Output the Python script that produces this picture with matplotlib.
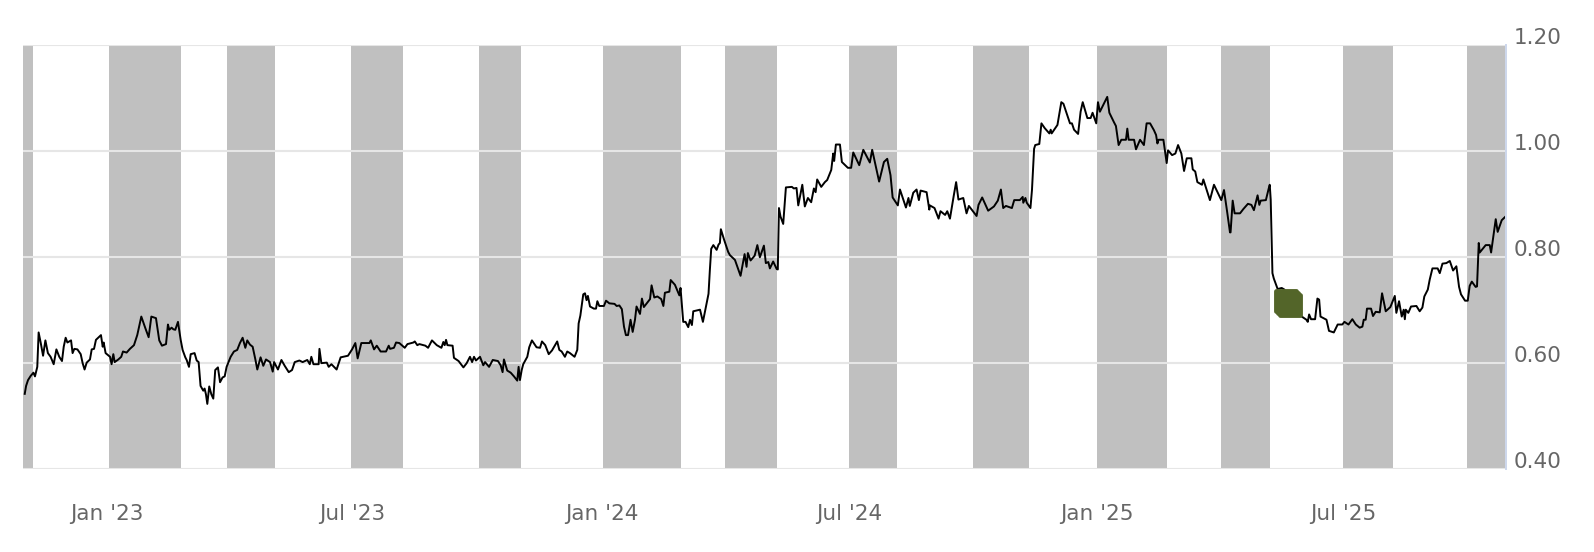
from matplotlib.markers import MarkerStyle
import matplotlib.pyplot as plt

# x axis is ordinal: one unit per trading session, not calendar days
sessions_a = [
    0.9, 1.6, 2.6, 4.0, 5.4, 6.2, 7.4, 8.1, 9.2, 10.4,
    11.6, 12.9, 14.3, 15.9, 17.3, 18.8, 20.2, 21.1, 22.1, 23.0,
    24.9, 25.7, 26.6, 28.2, 29.9, 30.9, 31.9, 33.0, 34.7, 35.6,
    36.8, 37.8, 39.2, 40.4, 41.3, 41.8, 42.8, 45.1, 45.9, 46.8,
    47.5, 49.4, 50.9, 51.8, 53.7, 55.4, 57.5, 59.2, 61.3, 63.4,
    65.1, 66.5, 68.9, 70.6, 72.0, 74.1, 75.1, 75.8, 77.0, 77.9,
    78.9, 80.3, 81.7, 82.7, 84.1, 84.8, 86.0, 86.9, 88.9, 90.0,
    91.0, 92.0, 93.4, 94.1, 94.8, 95.5, 96.5, 97.6, 98.6, 99.6,
    101.0, 102.1, 103.4, 104.5, 105.5, 107.6, 109.3, 111.0, 112.4, 113.8,
    115.2, 116.2, 117.6, 119.0, 120.4, 121.4, 123.1, 124.5, 125.9, 128.0,
]
prices_a = [
    .541, .556, .567, .575, .581, .574, .592, .657, .637, .613,
    .642, .618, .611, .597, .625, .611, .603, .630, .647, .638,
    .642, .618, .626, .625, .616, .599, .587, .600, .606, .625,
    .626, .643, .648, .652, .630, .638, .618, .611, .597, .616,
    .601, .606, .611, .621, .619, .626, .633, .652, .687, .665,
    .648, .687, .684, .642, .632, .635, .672, .662, .666, .663,
    .662, .677, .643, .624, .610, .605, .592, .616, .618, .604,
    .601, .556, .547, .551, .540, .522, .555, .540, .532, .586,
    .591, .563, .572, .574, .592, .611, .621, .624, .637, .647,
    .628, .642, .634, .630, .606, .587, .610, .594, .606, .601,
]

sessions_b = [
    129.4, 130.1, 132.1, 133.9, 135.6, 137.7, 139.4, 140.8, 143.2, 144.9,
    147.3, 148.6, 149.4, 150.5, 153.2, 153.6, 154.6, 157.4, 158.4, 159.8,
    162.5, 164.6, 168.4, 170.5, 172.2, 173.4, 175.3, 179.5, 180.2, 181.9,
    183.3, 185.3, 188.1, 189.5, 190.2, 192.2, 193.3, 195.0, 197.8, 199.2,
    202.3, 203.0, 204.3, 205.4, 208.5, 209.9, 211.9, 214.4, 216.8, 217.8,
    218.5, 219.2, 219.9, 222.6, 223.3, 225.7, 228.2, 229.9, 231.6, 232.7,
    233.7, 234.7, 236.8, 238.5, 239.4, 241.5, 243.4, 246.1, 247.5, 248.5,
    249.2, 250.9, 252.7, 254.4, 256.1, 256.8, 257.5,
]
prices_b = [
    .583, .601, .587, .605, .594, .582, .586, .601, .604, .601,
    .605, .597, .611, .597, .597, .626, .599, .600, .592, .597,
    .587, .610, .613, .625, .637, .608, .637, .637, .642, .625,
    .632, .621, .621, .632, .626, .628, .638, .637, .628, .635,
    .638, .640, .633, .635, .632, .628, .642, .633, .628, .639,
    .633, .643, .633, .632, .609, .603, .591, .599, .611, .601,
    .611, .604, .611, .595, .601, .592, .605, .603, .595, .582,
    .606, .585, .581, .574, .566, .592, .567,
]

sessions_c = [
    258.4, 259.2, 261.3, 262.3, 263.7, 266.1, 267.9, 268.9, 270.6, 272.4,
    274.1, 276.8, 277.9, 279.1, 280.8, 282.0, 283.4, 284.4, 285.8, 287.2,
    287.9, 288.8, 290.3, 291.2, 292.0, 292.7, 293.8, 295.8, 296.9, 297.6,
    298.6, 301.0, 302.1, 303.8, 306.5, 307.6, 309.0, 310.3, 311.4, 312.4,
    313.5, 314.8, 315.9, 317.1, 317.9, 319.7, 320.7, 321.7, 323.8, 324.9,
    325.7, 327.1, 328.7, 330.7, 331.8, 332.6, 334.9, 335.6, 337.8, 340.1,
    340.7, 341.6, 342.1, 343.3, 344.7, 345.6, 346.6, 347.3, 350.8, 352.3,
    355.2, 355.9, 356.6, 357.7, 359.4, 360.4, 361.1, 361.6, 363.2, 365.4,
    366.3, 368.9, 371.8, 373.9, 374.9, 375.6, 377.0, 379.1, 380.5, 381.8,
    383.9, 384.9, 386.2, 387.0,
]
prices_c = [
    .586, .597, .611, .629, .642, .629, .628, .640, .633, .616,
    .623, .640, .624, .621, .611, .621, .618, .615, .611, .624,
    .674, .689, .729, .731, .718, .726, .706, .702, .702, .716,
    .707, .707, .717, .712, .711, .707, .708, .701, .668, .652,
    .652, .681, .658, .681, .706, .692, .721, .705, .715, .720,
    .746, .723, .725, .720, .707, .732, .734, .756, .747, .727,
    .741, .700, .677, .677, .667, .681, .671, .697, .700, .677,
    .730, .775, .815, .822, .813, .823, .826, .852, .833, .809,
    .803, .794, .764, .805, .781, .807, .793, .802, .822, .799,
    .821, .788, .790, .778,
]

sessions_d = [
    388.7, 390.5, 391.1, 391.7, 392.5, 393.9, 395.3, 398.4, 399.4, 400.8,
    401.7, 403.8, 405.1, 406.7, 408.4, 409.8, 410.7, 411.5, 413.6, 415.5,
    416.7, 418.8, 419.8, 420.3, 421.2, 423.3, 424.3, 425.7, 427.4, 429.1,
    430.2, 433.3, 435.4, 438.8, 440.0, 443.6, 446.1, 447.8, 449.5, 450.6,
    453.3, 454.4, 457.5, 458.8, 459.5, 461.3, 463.0, 464.2, 465.1, 468.2,
    469.6, 469.9, 472.3, 474.4, 475.4, 477.8, 478.9, 480.3, 482.3, 483.5,
    484.7, 487.2, 488.9, 490.1, 494.1, 495.1, 497.0, 500.1, 503.1, 505.1,
    506.7, 507.9, 509.3, 512.4, 513.6, 516.5,
]
prices_d = [
    .791, .777, .776, .892, .876, .862, .931, .932, .929, .930,
    .897, .936, .895, .911, .903, .929, .922, .946, .932, .941,
    .945, .964, .995, .981, 1.012, 1.012, .979, .974, .968, .968,
    .997, .973, 1.002, .978, 1.002, .942, .979, .985, .954, .912,
    .897, .927, .893, .911, .896, .921, .927, .907, .925, .922,
    .889, .897, .892, .872, .886, .879, .886, .872, .916, .941,
    .908, .911, .882, .896, .877, .898, .912, .887, .895, .906,
    .927, .892, .896, .892, .907, .907,
]

sessions_e = [
    518.0, 518.3, 519.4, 520.1, 522.0, 522.8, 523.9, 524.5, 526.6, 527.7,
    529.4, 531.8, 532.5, 533.0, 536.0, 538.0, 539.1, 542.5, 543.5, 544.6,
    546.7, 548.0, 549.1, 551.5, 553.2, 554.2, 556.1, 557.0, 558.0, 561.8,
    562.9, 565.3, 566.3, 567.7, 569.1, 571.5, 572.2, 572.9, 575.7, 576.7,
    578.8, 580.8, 582.2, 584.0, 586.0, 587.1, 587.8, 588.4, 590.9, 592.6,
    593.3, 595.4, 597.1, 598.5, 600.2, 601.6, 603.0, 605.4, 606.1, 607.4,
    608.5, 610.9, 611.6, 615.0, 617.1, 620.9, 622.3, 624.0, 625.4, 625.7,
    626.8, 627.8, 630.6, 632.3, 634.7, 636.5, 637.8, 639.7, 640.6, 641.3,
    644.0, 645.4,
]
prices_e = [
    .913, .902, .911, .902, .892, .926, 1.004, 1.011, 1.013, 1.052,
    1.043, 1.033, 1.040, 1.033, 1.049, 1.092, 1.089, 1.052, 1.052, 1.040,
    1.032, 1.074, 1.092, 1.062, 1.062, 1.072, 1.052, 1.092, 1.074, 1.102,
    1.072, 1.054, 1.047, 1.011, 1.021, 1.021, 1.042, 1.021, 1.021, 1.003,
    1.021, 1.011, 1.052, 1.052, 1.039, 1.030, 1.014, 1.021, 1.021, .977,
    1.001, .992, .995, 1.011, .995, .962, .986, .986, .965, .961,
    .941, .936, .946, .907, .936, .907, .926, .883, .846, .846,
    .906, .882, .882, .890, .900, .898, .888, .916, .898, .906,
    .907, .928,
]

sessions_f = [
    646.0, 646.5, 647.4, 648.1, 650.1, 652.2, 653.6, 656.4, 658.8, 662.6,
    665.0, 665.7, 666.4, 667.4, 669.5, 670.7, 671.6, 672.3, 675.4, 676.7,
    679.2, 681.2, 683.6, 684.7, 686.8, 688.8, 690.6, 692.6, 694.0, 694.7,
    695.7, 696.4, 698.5, 699.5, 700.9, 703.0, 704.2, 706.1, 708.5, 710.8,
    711.6, 713.0, 714.4, 715.4, 716.0, 716.5, 717.8, 719.2, 722.0, 723.7,
    725.1, 726.1, 727.9, 728.9, 730.3, 733.0, 734.1, 735.5, 737.5, 739.3,
    741.0, 742.7, 744.1, 745.1, 747.2, 748.6, 749.6, 750.7, 752.7, 753.4,
    754.3, 754.8, 757.9, 760.0, 760.7, 763.1, 764.1, 766.2, 767.9,
]
prices_f = [
    .936, .908, .769, .759, .739, .741, .738, .719, .700, .687,
    .681, .677, .691, .682, .682, .721, .719, .687, .681, .660,
    .657, .672, .672, .677, .672, .682, .672, .666, .668, .681,
    .681, .702, .702, .688, .696, .695, .731, .697, .705, .726,
    .694, .716, .687, .700, .682, .700, .694, .706, .707, .697,
    .704, .725, .738, .757, .778, .778, .769, .787, .788, .792,
    .774, .782, .743, .729, .717, .717, .745, .753, .743, .744,
    .826, .808, .822, .822, .808, .871, .847, .869, .875,
]

sessions = sessions_a + sessions_b + sessions_c + sessions_d + sessions_e + sessions_f
prices = prices_a + prices_b + prices_c + prices_d + prices_e + prices_f

# highlighted cluster of sessions
flag_sessions = [654.2, 655.5, 656.5]
flag_prices = [.716, .712, .708]

# shaded periods, (start, end) in sessions
bands = [(0, 5), (44.6, 81.9), (105.7, 130.4), (170, 196.9), (236.3, 258), (300.5, 341),
         (363.7, 390.7), (428, 452.8), (492.2, 521.2), (556.5, 592.7), (620.7, 646.1),
         (683.9, 709.8), (748.2, 767.9)]

x_ticks = [43.5, 170.8, 300, 428, 556.5, 684]
x_labels = ["Jan '23", "Jul '23", "Jan '24", "Jul '24", "Jan '25", "Jul '25"]
y_ticks = [.40, .60, .80, 1.00, 1.20]
y_labels = ['0.40', '0.60', '0.80', '1.00', '1.20']


def main():
    fig = plt.figure(figsize=(15.94, 5.52), dpi=100)
    ax = fig.add_axes([23 / 1594, 1 - 468.5 / 552, (1505 - 23) / 1594, (468.5 - 45) / 552])

    for start, end in bands:
        ax.axvspan(start, end, color='#c0c0c0', lw=0, zorder=1)

    ax.plot(sessions, prices, '-', color='black', lw=1.4, zorder=3)

    square = MarkerStyle('s', joinstyle='round')
    ax.plot(flag_sessions, flag_prices, ls='none', marker=square, ms=14, mew=3.5,
            color='#536529', zorder=4)

    ax.set_xlim(0, 767.9)
    ax.set_ylim(.40, 1.20)
    ax.set_axisbelow(False)

    ax.set_xticks(x_ticks, x_labels)
    ax.set_yticks(y_ticks)
    ax.tick_params(axis='both', length=0, labelsize=15.5, labelcolor='#666666')
    ax.tick_params(axis='x', pad=25.5)
    ax.tick_params(axis='y', labelleft=False)

    # y labels sit above their grid lines, so they are placed by hand
    for value, label in zip(y_ticks, y_labels):
        ax.annotate(label, (1, value), xycoords=ax.get_yaxis_transform(), xytext=(6.5, 5),
                    textcoords='offset points', va='center', ha='left', fontsize=15.5,
                    color='#666666')

    ax.grid(axis='y', color='#e6e6e6', lw=1.5)
    for line in ax.get_ygridlines():
        line.set_clip_on(False)

    for side in ['top', 'left', 'bottom']:
        ax.spines[side].set_visible(False)
    ax.spines['right'].set_color('#ccd6eb')
    ax.spines['right'].set_linewidth(1.4)
    ax.spines['right'].set_position(('outward', 1))

    fig.savefig('out.png', dpi=100)


if "__main__" == __name__:
    main()
